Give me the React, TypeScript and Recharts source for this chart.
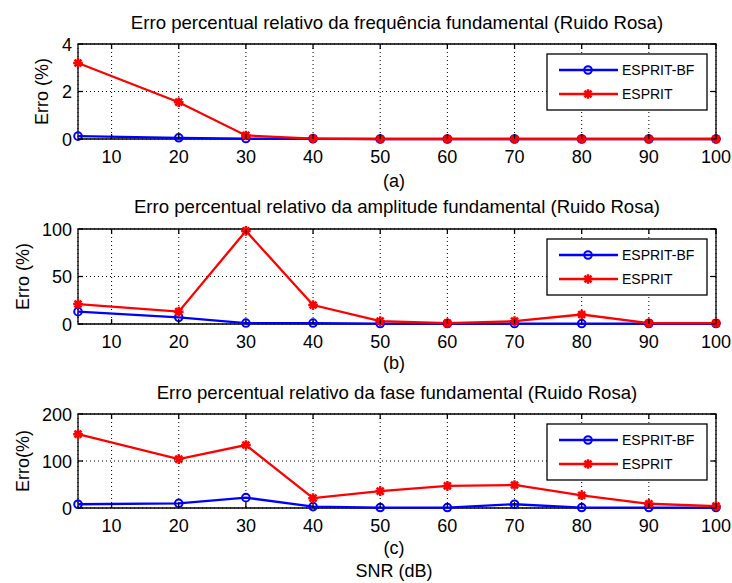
import { LineChart, Line, XAxis, YAxis, CartesianGrid, ReferenceArea } from 'recharts'

const FONT = '"Liberation Sans", Arial, Helvetica, sans-serif'
const BLUE = '#0000ff'
const RED = '#ff0000'

// SNR (dB) values of each point and the x tick labels
const snr = [5, 20, 30, 40, 50, 60, 70, 80, 90, 100]
const xTicks = [10, 20, 30, 40, 50, 60, 70, 80, 90, 100]

// (a) frequência
const freqBF = [0.12, 0.05, 0.02, 0.01, 0, 0, 0, 0, 0, 0]
const freqES = [3.2, 1.55, 0.15, 0.02, 0, 0, 0, 0, 0, 0]
const freqTicks = [0, 2, 4]

// (b) amplitude
const ampBF = [13, 7, 1, 1, 0.5, 0.5, 0.5, 0.5, 0.5, 0.5]
const ampES = [21, 13, 98, 20, 3, 1, 3, 10, 1, 1]
const ampTicks = [0, 50, 100]

// (c) fase
const faseBF = [8, 10, 22, 3, 1, 1, 8, 1, 1, 1]
const faseES = [157, 104, 134, 21, 36, 47, 49, 27, 9, 4]
const faseTicks = [0, 100, 200]

const W = 732
const LEFT = 78
const RIGHT = 716
const XAXIS_H = 30
const YAXIS_W = 50

type Panel = {
  top: number
  height: number
  plotTop: number
  plotBottom: number
  ticks: number[]
  bf: number[]
  es: number[]
  title: string
  titleY: number
  yLabel: string
  yLabelX: number
  tag: string
  tagY: number
}

const panels: Panel[] = [
  {
    top: 0, height: 190, plotTop: 44, plotBottom: 139, ticks: freqTicks, bf: freqBF, es: freqES,
    title: 'Erro percentual relativo da frequência fundamental (Ruido Rosa)', titleY: 29,
    yLabel: 'Erro (%)', yLabelX: 42, tag: '(a)', tagY: 187,
  },
  {
    top: 190, height: 190, plotTop: 229, plotBottom: 324, ticks: ampTicks, bf: ampBF, es: ampES,
    title: 'Erro percentual relativo da amplitude fundamental (Ruido Rosa)', titleY: 213,
    yLabel: 'Erro (%)', yLabelX: 23, tag: '(b)', tagY: 369,
  },
  {
    top: 380, height: 203, plotTop: 414, plotBottom: 508, ticks: faseTicks, bf: faseBF, es: faseES,
    title: 'Erro percentual relativo da fase fundamental (Ruido Rosa)', titleY: 399,
    yLabel: 'Erro(%)', yLabelX: 23, tag: '(c)', tagY: 554,
  },
]

function Circle(p: any) {
  if (p.cx == null || p.cy == null) return null
  return <circle key={p.key} cx={p.cx} cy={p.cy} r={3.8} fill="none" stroke={BLUE} strokeWidth={2} />
}

function starPath(cx: number, cy: number, r: number) {
  const d = r * 0.72
  return `M${cx - r},${cy}H${cx + r}M${cx},${cy - r}V${cy + r}M${cx - d},${cy - d}L${cx + d},${cy + d}M${cx - d},${cy + d}L${cx + d},${cy - d}`
}

function Star(p: any) {
  if (p.cx == null || p.cy == null) return null
  return <path key={p.key} d={starPath(p.cx, p.cy, 4.8)} stroke={RED} strokeWidth={2.5} fill="none" />
}

function makeXTick(plotTop: number, plotBottom: number) {
  return (props: any) => {
    const { x, payload } = props
    return (
      <g>
        <line x1={x} y1={plotBottom} x2={x} y2={plotBottom - 5} stroke="#000" strokeWidth={1.3} />
        <line x1={x} y1={plotTop} x2={x} y2={plotTop + 5} stroke="#000" strokeWidth={1.3} />
        <text x={x} y={plotBottom + 24} textAnchor="middle" fontSize={18} fontFamily={FONT} fill="#000">
          {payload.value}
        </text>
      </g>
    )
  }
}

function YTick(props: any) {
  const { y, payload } = props
  return (
    <g>
      <line x1={LEFT} y1={y} x2={LEFT + 5} y2={y} stroke="#000" strokeWidth={1.3} />
      <line x1={RIGHT} y1={y} x2={RIGHT - 5} y2={y} stroke="#000" strokeWidth={1.3} />
      <text x={LEFT - 6} y={y + 6.5} textAnchor="end" fontSize={18} fontFamily={FONT} fill="#000">
        {payload.value}
      </text>
    </g>
  )
}

function PanelChart({ p }: { p: Panel }) {
  const data = snr.map((s, i) => ({ snr: s, bf: p.bf[i], es: p.es[i] }))
  const yMax = p.ticks[p.ticks.length - 1]
  const mTop = p.plotTop - p.top
  const mBottom = p.top + p.height - p.plotBottom
  return (
    <div style={{ position: 'absolute', left: 0, top: p.top }}>
      <LineChart
        width={W}
        height={p.height}
        data={data}
        margin={{ top: mTop, right: W - RIGHT, bottom: mBottom - XAXIS_H, left: LEFT - YAXIS_W }}
      >
        <CartesianGrid stroke="#000" strokeDasharray="1 3" />
        <XAxis
          dataKey="snr"
          type="number"
          domain={[5, 100]}
          ticks={xTicks}
          interval={0}
          height={XAXIS_H}
          tickLine={false}
          axisLine={false}
          tick={makeXTick(mTop, p.plotBottom - p.top)}
        />
        <YAxis
          type="number"
          domain={[0, yMax]}
          ticks={p.ticks}
          interval={0}
          width={YAXIS_W}
          tickLine={false}
          axisLine={false}
          tick={YTick}
        />
        <ReferenceArea x1={5} x2={100} y1={0} y2={yMax} fill="none" stroke="#000" strokeWidth={1.3} />
        <Line
          type="linear"
          dataKey="bf"
          stroke={BLUE}
          strokeWidth={2.3}
          dot={Circle}
          activeDot={false}
          isAnimationActive={false}
        />
        <Line
          type="linear"
          dataKey="es"
          stroke={RED}
          strokeWidth={2.3}
          dot={Star}
          activeDot={false}
          isAnimationActive={false}
        />
      </LineChart>
    </div>
  )
}

function LegendBox({ y }: { y: number }) {
  const x = 547
  return (
    <g>
      <rect x={x} y={y} width={160} height={56} fill="#fff" stroke="#000" strokeWidth={1.3} />
      <line x1={x + 12} y1={y + 16} x2={x + 71} y2={y + 16} stroke={BLUE} strokeWidth={2.3} />
      <circle cx={x + 41} cy={y + 16} r={3.8} fill="none" stroke={BLUE} strokeWidth={2} />
      <text x={x + 75} y={y + 21} fontSize={14} fontFamily={FONT} fill="#000">ESPRIT-BF</text>
      <line x1={x + 12} y1={y + 40} x2={x + 71} y2={y + 40} stroke={RED} strokeWidth={2.3} />
      <path d={starPath(x + 41, y + 40, 4.8)} stroke={RED} strokeWidth={2.5} fill="none" />
      <text x={x + 75} y={y + 45} fontSize={14} fontFamily={FONT} fill="#000">ESPRIT</text>
    </g>
  )
}

export default function App() {
  const cx = (LEFT + RIGHT) / 2
  return (
    <div style={{ position: 'absolute', left: 0, top: 0, width: W, height: 583, background: '#fff' }}>
      {panels.map((p) => (
        <PanelChart key={p.tag} p={p} />
      ))}
      <svg
        width={W}
        height={583}
        style={{ position: 'absolute', left: 0, top: 0, pointerEvents: 'none' }}
      >
        {panels.map((p) => {
          const ly = (p.plotTop + p.plotBottom) / 2
          return (
            <g key={p.tag}>
              <text x={cx} y={p.titleY} textAnchor="middle" fontSize={18.6} fontFamily={FONT} fill="#000">
                {p.title}
              </text>
              <text
                x={p.yLabelX}
                y={ly}
                textAnchor="middle"
                dominantBaseline="central"
                fontSize={18}
                fontFamily={FONT}
                fill="#000"
                transform={`rotate(-90 ${p.yLabelX} ${ly})`}
              >
                {p.yLabel}
              </text>
              <text x={394} y={p.tagY} textAnchor="middle" fontSize={18} fontFamily={FONT} fill="#000">
                {p.tag}
              </text>
              <LegendBox y={p.plotTop + 10} />
            </g>
          )
        })}
        <text x={394} y={577} textAnchor="middle" fontSize={18} fontFamily={FONT} fill="#000">
          SNR (dB)
        </text>
      </svg>
    </div>
  )
}
